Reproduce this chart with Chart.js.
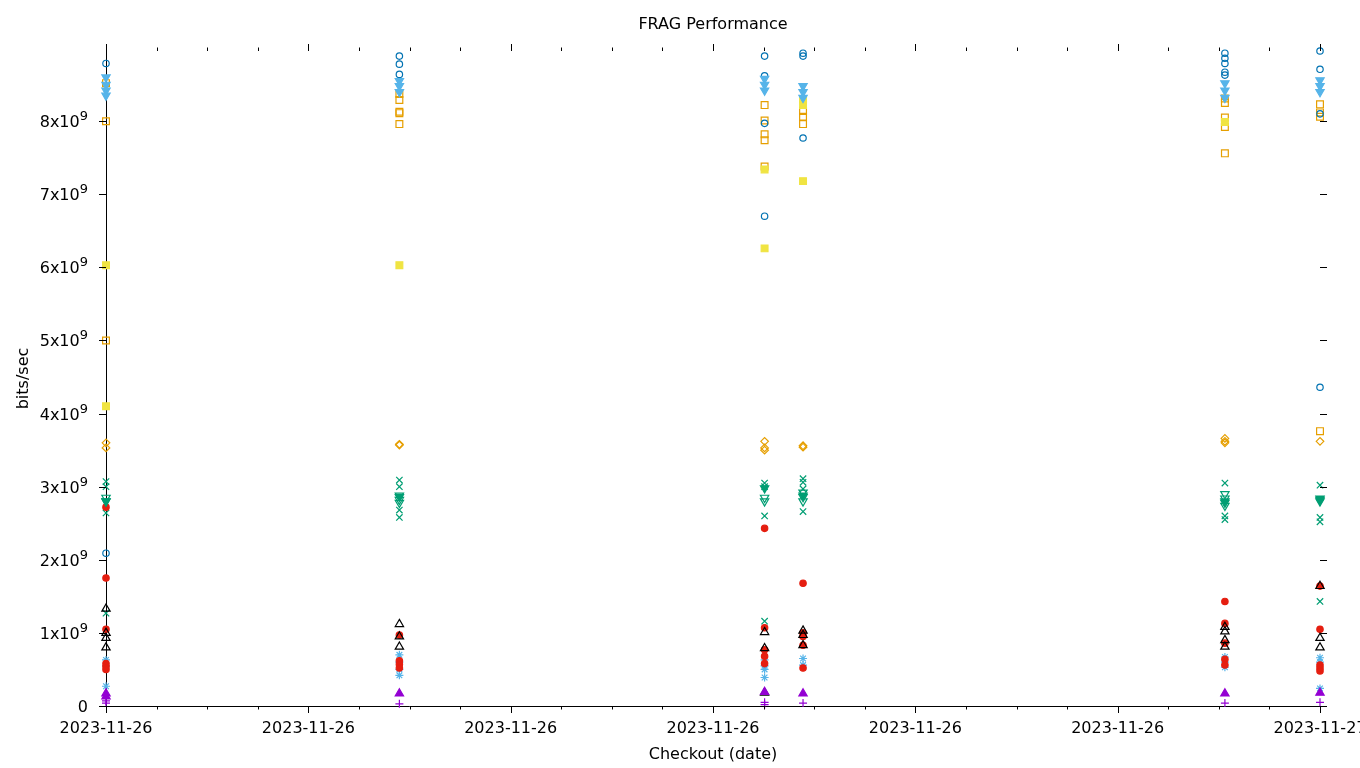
<!DOCTYPE html>
<html>
<head>
<meta charset="utf-8">
<title>FRAG Performance</title>
<script src="https://cdn.jsdelivr.net/npm/chart.js@4.4.1/dist/chart.umd.min.js"></script>
<style>
  html, body { margin: 0; padding: 0; background: #fff; }
  canvas { display: block; }
</style>
</head>
<body>
<canvas id="chart" width="1360" height="768"></canvas>
<script>
// checkout times (hours of 2023-11-26), one column of points per checkout
const checkoutHours = [12.0, 14.9, 18.51, 18.89, 23.06, 24.0];

// values in units of 1e9 bits/sec, one inner list per checkout
const purplePlus   = [[0.07, 0.04], [0.03], [0.05, 0.02], [0.04], [0.04], [0.05]];
const greenCross   = [[3.07, 3.0, 2.64, 1.27], [3.09, 3.0, 2.68, 2.58], [3.05, 3.0, 2.6, 1.16],
                      [3.11, 3.06, 2.97, 2.66], [3.05, 2.6, 2.55], [3.02, 2.58, 2.52, 1.43]];
const skyStar      = [[0.63, 0.55, 0.27], [0.7, 0.6, 0.5, 0.42], [0.63, 0.55, 0.5, 0.39],
                      [0.65, 0.56], [0.67, 0.6, 0.53], [0.66, 0.6, 0.24]];
const orangeSquare = [[8.52, 8.0, 5.0], [8.37, 8.29, 8.13, 8.11, 7.96], [8.22, 8.01, 7.82, 7.74, 7.38],
                      [8.14, 8.06, 7.96], [8.31, 8.25, 8.05, 7.92, 7.56], [8.23, 8.12, 8.06, 3.76]];
const yellowSquare = [[6.03, 4.1], [6.03], [7.34, 6.26], [8.3, 8.22, 7.18], [7.99], []];
const blueCircle   = [[8.79, 2.09], [8.89, 8.78, 8.64], [8.89, 8.62, 7.97, 6.7],
                      [8.93, 8.89, 7.77], [8.93, 8.86, 8.79, 8.67, 8.63], [8.96, 8.71, 8.1, 4.36]];
const redDot       = [[2.72, 1.75, 1.05, 0.58, 0.54, 0.5], [0.97, 0.62, 0.57, 0.52],
                      [2.43, 1.07, 0.77, 0.68, 0.58], [1.68, 1.0, 0.95, 0.83, 0.52],
                      [1.43, 1.13, 0.86, 0.64, 0.56], [1.64, 1.05, 0.56, 0.52, 0.48]];
const blackTri     = [[1.33, 1.0, 0.93, 0.8], [1.12, 0.95, 0.81], [1.01, 0.79, 0.18],
                      [1.03, 0.97, 0.83], [1.08, 1.02, 0.9, 0.81], [1.64, 0.93, 0.8]];
const purpleTri    = [[0.17, 0.13], [0.17], [0.19], [0.17], [0.17], [0.18]];
const greenDown    = [[2.85, 2.8], [2.88, 2.82, 2.78], [2.85, 2.8], [2.92, 2.86, 2.8],
                      [2.9, 2.84, 2.78, 2.74], [2.82]];
const greenDownFill = [[2.8], [2.86], [2.98], [2.88], [2.8], [2.84, 2.8]];
const skyDown      = [[8.6, 8.5, 8.42, 8.35], [8.55, 8.48, 8.4], [8.58, 8.5, 8.42],
                      [8.48, 8.4, 8.32], [8.52, 8.42, 8.32], [8.56, 8.48, 8.4]];
const orangeDiamond = [[3.6, 3.53], [3.58, 3.57], [3.62, 3.53, 3.5], [3.56, 3.54],
                       [3.66, 3.62, 3.6], [3.62]];

const xTickHours = [12, 14, 16, 18, 20, 22, 24];
const yTickValues = [0, 1e9, 2e9, 3e9, 4e9, 5e9, 6e9, 7e9, 8e9];

const series = [
  { values: purplePlus,    color: '#9400D3', style: 'cross',    fill: false, r: 4 },
  { values: greenCross,    color: '#009E73', style: 'crossRot', fill: false, r: 4.5 },
  { values: skyStar,       color: '#56B4E9', style: 'star',     fill: false, r: 4 },
  { values: orangeSquare,  color: '#E69F00', style: 'rect',     fill: false, r: 4.8 },
  { values: yellowSquare,  color: '#F0E442', style: 'rect',     fill: true,  r: 4.8 },
  { values: blueCircle,    color: '#0072B2', style: 'circle',   fill: false, r: 3.2 },
  { values: redDot,        color: '#E51E10', style: 'circle',   fill: true,  r: 3.2 },
  { values: blackTri,      color: '#000000', style: 'triangle', fill: false, r: 4.8 },
  { values: purpleTri,     color: '#9400D3', style: 'triangle', fill: true,  r: 4.8 },
  { values: greenDown,     color: '#009E73', style: 'triangle', fill: false, r: 4.8, rot: 180 },
  { values: greenDownFill, color: '#009E73', style: 'triangle', fill: true,  r: 4.8, rot: 180 },
  { values: skyDown,       color: '#56B4E9', style: 'triangle', fill: true,  r: 4.8, rot: 180 },
  { values: orangeDiamond, color: '#E69F00', style: 'rectRot',  fill: false, r: 3.8 }
];

function toPoints(cols) {
  const pts = [];
  cols.forEach((vals, i) => vals.forEach(v => pts.push({ x: checkoutHours[i], y: v * 1e9 })));
  return pts;
}

// gnuplot draws later series on top; chart.js draws index 0 last, so reverse
const datasets = series.map((s, i) => ({
  data: toPoints(s.values),
  pointStyle: s.style,
  pointRadius: s.r,
  pointHoverRadius: s.r,
  pointRotation: s.rot || 0,
  borderColor: s.color,
  backgroundColor: s.fill ? s.color : 'rgba(0,0,0,0)',
  pointBorderWidth: 1.2,
  showLine: false,
  clip: false,
  order: series.length - i
}));

const FONT = 'DejaVu Sans';

// gnuplot style: out-ticks mirrored on top/right, minor x ticks, 10^9 labels
const gnuTicks = {
  id: 'gnuTicks',
  afterDraw(chart) {
    const { ctx, chartArea: a, scales: { x, y } } = chart;
    ctx.save();
    ctx.strokeStyle = '#000';
    ctx.lineWidth = 1;
    ctx.beginPath();
    for (let h = xTickHours[0]; h <= xTickHours[xTickHours.length - 1] + 1e-9; h += 0.5) {
      const px = Math.round(x.getPixelForValue(h)) + 0.5;
      const len = xTickHours.includes(h) ? 7 : 3.5;
      ctx.moveTo(px, a.bottom);
      ctx.lineTo(px, a.bottom + len);
      ctx.moveTo(px, a.top);
      ctx.lineTo(px, a.top - len);
    }
    yTickValues.forEach(v => {
      const py = Math.round(y.getPixelForValue(v)) + 0.5;
      ctx.moveTo(a.left - 7, py);
      ctx.lineTo(a.left, py);
      ctx.moveTo(a.right, py);
      ctx.lineTo(a.right + 7, py);
    });
    ctx.stroke();

    ctx.fillStyle = '#000';
    ctx.textBaseline = 'alphabetic';
    yTickValues.forEach(v => {
      const py = y.getPixelForValue(v);
      const right = a.left - 18;
      const base = py + 6;
      if (v === 0) {
        ctx.font = '16px "' + FONT + '"';
        ctx.textAlign = 'right';
        ctx.fillText('0', right, base);
        return;
      }
      ctx.font = '13px "' + FONT + '"';
      ctx.textAlign = 'right';
      const sup = '9';
      ctx.fillText(sup, right, base - 7);
      const supW = ctx.measureText(sup).width;
      ctx.font = '16px "' + FONT + '"';
      ctx.fillText(Math.round(v / 1e9) + 'x10', right - supW, base);
    });

    ctx.font = '16px "' + FONT + '"';
    ctx.textAlign = 'center';
    ctx.textBaseline = 'middle';
    ctx.fillText('FRAG Performance', (a.left + a.right) / 2, 25);
    ctx.restore();
  }
};

new Chart(document.getElementById('chart').getContext('2d'), {
  type: 'scatter',
  data: { datasets },
  options: {
    responsive: false,
    animation: false,
    devicePixelRatio: 1,
    layout: { padding: { top: 51, right: 40, left: 0, bottom: 0 } },
    plugins: {
      legend: { display: false },
      title: { display: false },
      tooltip: { enabled: false }
    },
    scales: {
      x: {
        type: 'linear',
        min: 12,
        max: 24,
        grid: { display: false, drawTicks: false },
        border: { display: true, color: '#000', width: 1 },
        afterBuildTicks(scale) {
          scale.ticks = xTickHours.map(v => ({ value: v }));
        },
        afterFit(scale) {
          scale.height = 62;
          scale.paddingLeft = 0;
          scale.paddingRight = 0;
        },
        ticks: {
          color: '#000',
          font: { family: FONT, size: 16 },
          padding: 13,
          maxRotation: 0,
          autoSkip: false,
          callback: v => (v >= 24 ? '2023-11-27' : '2023-11-26')
        },
        title: {
          display: true,
          text: 'Checkout (date)',
          color: '#000',
          font: { family: FONT, size: 16 },
          padding: { top: 0, bottom: 4 }
        }
      },
      y: {
        type: 'linear',
        min: 0,
        max: 8.96e9,
        grid: { display: false, drawTicks: false },
        border: { display: true, color: '#000', width: 1 },
        afterBuildTicks(scale) {
          scale.ticks = yTickValues.map(v => ({ value: v }));
        },
        afterFit(scale) {
          scale.width = 106;
          scale.paddingTop = 0;
          scale.paddingBottom = 0;
        },
        ticks: { display: false },
        title: {
          display: true,
          text: 'bits/sec',
          color: '#000',
          font: { family: FONT, size: 16 },
          padding: { top: 14, bottom: 0 }
        }
      }
    }
  },
  plugins: [gnuTicks]
});
</script>
</body>
</html>
